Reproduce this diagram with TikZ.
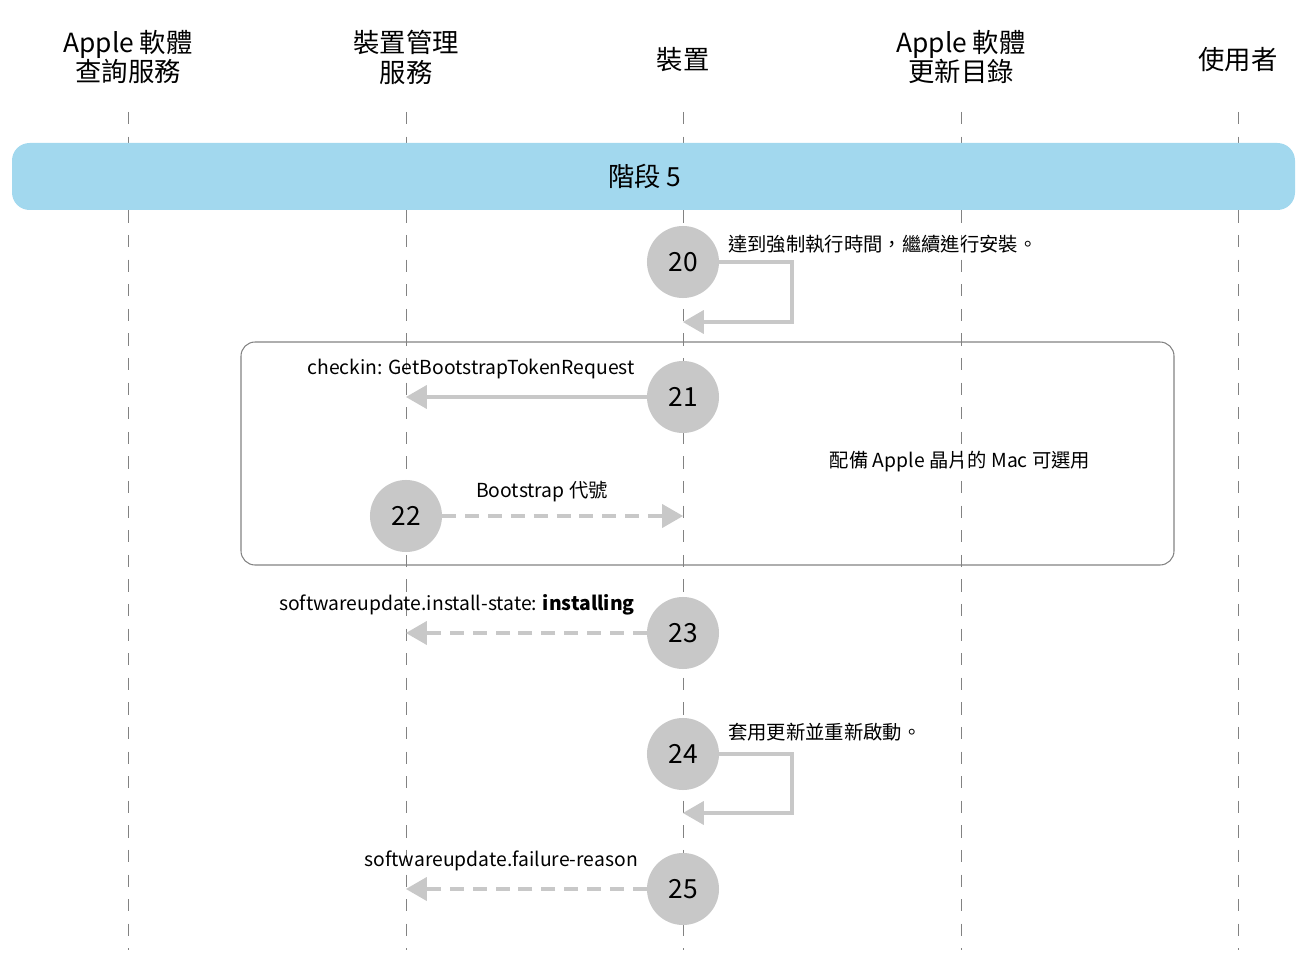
\documentclass[tikz,border=0pt]{standalone}
\usepackage{fontspec}
\setmainfont{Noto Sans CJK TC}
\usetikzlibrary{positioning,arrows}
\definecolor{banner}{RGB}{162,216,238}
\definecolor{stepgray}{RGB}{200,200,200}
\definecolor{linegray}{RGB}{130,130,130}

\begin{document}
\begin{tikzpicture}[x=0.02cm,y=-0.02cm,
	head/.style={font=\fontsize{15}{17}\selectfont,align=center},
	num/.style={circle,fill=stepgray,minimum size=41pt,inner sep=0pt,font=\fontsize{15}{15}\selectfont},
	msg/.style={font=\fontsize{11}{13}\selectfont},
	life/.style={draw=linegray,dash pattern=on 7pt off 7pt,line width=0.5pt},
	go/.style={draw=stepgray,line width=2.3pt,-triangle 60},
	goback/.style={go,dash pattern=on 8pt off 5pt}] 
	\useasboundingbox (0,0) rectangle (1303,963);
	% lifelines
	\foreach \x/\n in {128/asq,406/mdm,683/dev,961/asc,1238/usr} {
		\coordinate (\n top) at (\x,112);
		\coordinate (\n bot) at (\x,950);
		\draw[life] (\n top) -- (\n bot);
	}
	\node[head] (h_asq) at (128,57) {Apple 軟體\\查詢服務};
	\node[head] (h_mdm) at (406,57) {裝置管理\\服務};
	\node[head] (h_dev) at (683,60) {裝置};
	\node[head] (h_asc) at (961,57) {Apple 軟體\\更新目錄};
	\node[head] (h_usr) at (1238,60) {使用者};
	\fill[banner,rounded corners=10pt] (12,143) rectangle (1295,210);
	\node[head] (phase) at (645,176) {階段 5};
	\draw[linegray,rounded corners=8pt,line width=0.6pt] (241,342) rectangle (1174,565);
	\node[msg] (opt) at (960,462) {配備 Apple 晶片的 Mac 可選用};
	% steps
	\node[num] (s20) at (683,262) {20};
	\node[num] (s21) at (683,397) {21};
	\node[num] (s22) at (406,516) {22};
	\node[num] (s23) at (683,633) {23};
	\node[num] (s24) at (683,754) {24};
	\node[num] (s25) at (683,889) {25};
	\coordinate (c20) at (683,322);
	\coordinate (c24) at (683,813);
	\coordinate (m21) at (406,397);
	\coordinate (m22) at (683,516);
	\coordinate (m23) at (406,633);
	\coordinate (m25) at (406,889);
	\draw[go] (s20.east) -- ++(73,0) |- (c20);
	\draw[go] (s24.east) -- ++(73,0) |- (c24);
	\draw[go] (s21) -- (m21);
	\draw[goback] (s22) -- (m22);
	\draw[goback] (s23) -- (m23);
	\draw[goback] (s25) -- (m25);
	\node[msg,anchor=west] (t20) at (722,244) {達到強制執行時間，繼續進行安裝。};
	\node[msg,anchor=east] (t21) at (641,369) {checkin: GetBootstrapTokenRequest};
	\node[msg] (t22) at (542,492) {Bootstrap 代號};
	\node[msg,anchor=east] (t23) at (641,605) {softwareupdate.install-state: \textbf{installing}};
	\node[msg,anchor=west] (t24) at (722,732) {套用更新並重新啟動。};
	\node[msg,anchor=east] (t25) at (644,861) {softwareupdate.failure-reason};
\end{tikzpicture}
\end{document}
